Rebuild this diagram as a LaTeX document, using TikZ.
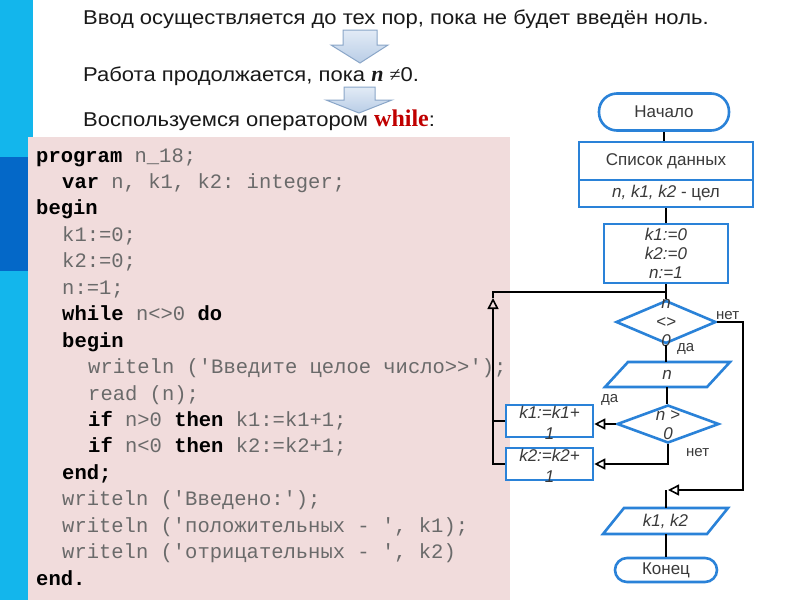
\documentclass[tikz,border=0pt]{standalone}
\usepackage{fontspec}
\setmainfont{Liberation Sans}
\setmonofont{Liberation Mono}
\newfontfamily\hdr{Liberation Sans}[FakeStretch=1.1]
\newfontfamily\tms{Liberation Serif}
\usetikzlibrary{arrows.meta,shapes.geometric}
\definecolor{fcblue}{HTML}{2A82D8}
\definecolor{fctext}{HTML}{3A3A3A}
\definecolor{barlight}{HTML}{13B6EC}
\definecolor{bardark}{HTML}{0468C8}
\definecolor{pinkbg}{HTML}{F1DCDC}
\definecolor{codegray}{HTML}{6A6A6A}
\definecolor{whilered}{HTML}{C00000}
\definecolor{arrfillA}{HTML}{E2EBF6}
\definecolor{arrfillB}{HTML}{B9CDE6}
\definecolor{arrline}{HTML}{8AA6C8}
\newcommand\kw[1]{\textcolor{black}{\bfseries #1}}
\begin{document}
\begin{tikzpicture}[x=1pt,y=-1pt,
  fc/.style={draw=fcblue, line width=2.6pt, fill=white},
  ftxt/.style={font=\fontsize{17}{19}\selectfont, text=fctext, align=center, inner sep=0pt},
  conn/.style={line width=1.8pt, draw=black},
  arr/.style={-{Triangle[open,length=11pt,width=11pt,line width=1.6pt]}},
  lbl/.style={font=\fontsize{15}{17}\selectfont, text=fctext, inner sep=0pt},
  code/.style={font=\ttfamily\fontsize{20.5}{24}\selectfont, text=codegray, inner sep=0pt, anchor=base west},
  hdrtxt/.style={font=\hdr\fontsize{20}{22}\selectfont, text=black!90, inner sep=0pt, anchor=base west},
  blockarrow/.style={draw=arrline, line width=1pt, top color=arrfillA, bottom color=arrfillB}
]
\useasboundingbox (0,0) rectangle (800,600);
\fill[white] (0,0) rectangle (800,600);
% left bar
\fill[barlight] (0,0) rectangle (33,600);
\fill[bardark] (0,157) rectangle (33,271);
% code background
\fill[pinkbg] (28,137) rectangle (510,600);

% header
\node[hdrtxt] (h1) at (83,24.5) {Ввод осуществляется до тех пор, пока не будет введён ноль.};
\node[hdrtxt] (h2) at (83,81.7) {Работа продолжается, пока {\tms\bfseries\itshape\fontsize{22}{24}\selectfont n} {\tms ≠}0.};
\node[hdrtxt] (h3) at (83,126.7) {Воспользуемся оператором \textcolor{whilered}{\tms\bfseries\fontsize{24}{26}\selectfont while}:};
% block arrows
\draw[blockarrow] (343,30) -- (377,30) -- (377,45) -- (388,45) -- (360,63) -- (331,45) -- (343,45) -- cycle;
\draw[blockarrow] (344,87) -- (375,87) -- (375,100) -- (392,100) -- (359,113) -- (326,100) -- (344,100) -- cycle;

% code
\node[code] (c1) at (36,162.0) {\kw{program} n\_18;};
\node[code] (c2) at (62,188.4) {\kw{var} n, k1, k2: integer;};
\node[code] (c3) at (36,214.9) {\kw{begin}};
\node[code] (c4) at (62,241.3) {k1:=0;};
\node[code] (c5) at (62,267.8) {k2:=0;};
\node[code] (c6) at (62,294.2) {n:=1;};
\node[code] (c7) at (62,320.6) {\kw{while} n<>0 \kw{do}};
\node[code] (c8) at (62,347.1) {\kw{begin}};
\node[code] (c9) at (88,373.5) {writeln ('Введите целое число>>');};
\node[code] (c10) at (88,400.0) {read (n);};
\node[code] (c11) at (88,426.4) {\kw{if} n>0 \kw{then} k1:=k1+1;};
\node[code] (c12) at (88,452.8) {\kw{if} n<0 \kw{then} k2:=k2+1;};
\node[code] (c13) at (62,479.3) {\kw{end;}};
\node[code] (c14) at (62,505.7) {writeln ('Введено:');};
\node[code] (c15) at (62,532.2) {writeln ('положительных - ', k1);};
\node[code] (c16) at (62,558.6) {writeln ('отрицательных - ', k2)};
\node[code] (c17) at (36,585.0) {\kw{end.}};

% flowchart nodes
\node[fc, ftxt, rounded corners=18pt, minimum width=130pt, minimum height=37pt] (start) at (664,112) {Начало};
\node[fc, ftxt, minimum width=174pt, minimum height=38pt] (dA) at (666,161) {Список данных};
\node[fc, ftxt, minimum width=174pt, minimum height=27pt] (dB) at (666,193.5) {\itshape n, k1, k2 \upshape - цел};
\node[fc, ftxt, minimum width=124pt, minimum height=59pt] (init) at (666,253.5) {\itshape k1:=0\\\itshape k2:=0\\\itshape n:=1};
\node[fc, diamond, minimum width=100pt, minimum height=43pt, inner sep=0pt] (d1) at (666,322) {};
\node[ftxt] (d1t) at (666,323) {\itshape n\\\itshape <>\\\itshape 0};
\coordinate (inN) at (667,362);
\coordinate (inS) at (667,387);
\draw[fc] (628,362) -- (730,362) -- (707,387) -- (605,387) -- cycle;
\node[ftxt] (inp) at (667,375) {\itshape n};
\node[fc, diamond, minimum width=102pt, minimum height=38pt, inner sep=0pt] (d2) at (668,424) {};
\node[ftxt] (d2t) at (668,425) {\itshape n >\\\itshape 0};
\node[fc, minimum width=87pt, minimum height=32pt, inner sep=0pt] (b1) at (549.5,421) {};
\node[ftxt, font=\fontsize{17}{21}\selectfont] (b1t) at (549.5,422.5) {\itshape k1:=k1+\\\itshape 1};
\node[fc, minimum width=87pt, minimum height=32pt, inner sep=0pt] (b2) at (549.5,464) {};
\node[ftxt, font=\fontsize{17}{21}\selectfont] (b2t) at (549.5,465.5) {\itshape k2:=k2+\\\itshape 1};
\coordinate (outN) at (666,508);
\coordinate (outS) at (666,534);
\draw[fc] (624,508) -- (728,508) -- (707,534) -- (603,534) -- cycle;
\node[ftxt] (outp) at (665.5,521) {\itshape k1, k2};
\node[fc, ftxt, rounded corners=12pt, minimum width=102pt, minimum height=24pt] (end) at (666,570) {Конец};

% connectors
\draw[conn] (start.south) -- (start.south |- dA.north);
\draw[conn] (dB.south) -- (init.north);
\draw[conn] (init.south) -- (d1.north);
\coordinate (lp) at (493,292);
\coordinate (lptip) at (493,298);
\draw[conn] (b1.west) -- (b1.west -| lp);
\draw[conn, arr] (b2.west) -| (lptip);
\draw[conn] (lptip) -- (lp) -- (lp -| init.south);
\draw[conn] (d1.south) -- (d1.south |- inN);
\draw[conn] (inS) -- (inS |- d2.north);
\draw[conn, arr] (d2.west) -- (d2.west -| b1.east);
\draw[conn, arr] (d2.south) |- (b2.east);
\coordinate (jn) at (666,490);
\coordinate (jtip) at (668,490);
\draw[conn, arr] (d1.east) -- ++(26,0) |- (jtip);
\draw[conn] (jn) -- (outN);
\draw[conn] (outS) -- (end.north);

% labels
\node[lbl, anchor=west] (no1) at (716,316) {нет};
\node[lbl, anchor=west] (yes1) at (677,349) {да};
\node[lbl, anchor=west] (yes2) at (601,400) {да};
\node[lbl, anchor=west] (no2) at (686,453) {нет};
\end{tikzpicture}
\end{document}
